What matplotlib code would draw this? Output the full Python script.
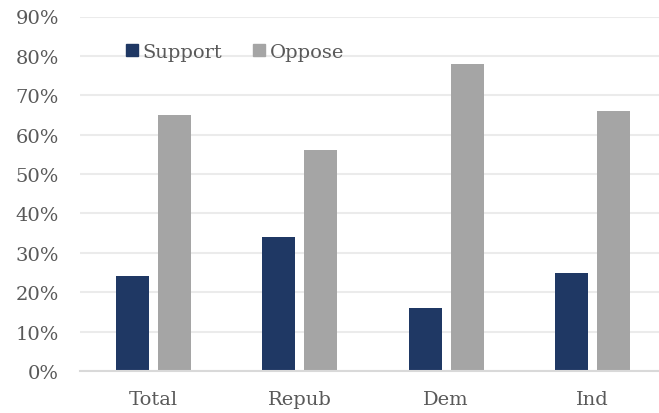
import matplotlib
matplotlib.use("Agg")
import matplotlib.pyplot as plt
from matplotlib.patches import Patch
import numpy as np

categories = ["Total", "Repub", "Dem", "Ind"]
support = [24, 34, 16, 25]
oppose = [65, 56, 78, 66]
yticks = [0, 10, 20, 30, 40, 50, 60, 70, 80, 90]
ytick_labels = ["0%", "10%", "20%", "30%", "40%", "50%", "60%", "70%", "80%", "90%"]

navy = "#1F3864"
grey = "#A5A5A5"
text_col = "#595959"

plt.rcParams["font.family"] = ["DejaVu Serif"]

fig = plt.figure(figsize=(6.59, 4.14), dpi=100)
W, H = 659, 414
left, right = 80, 666
bottom, top = 372, 17.5
ax = fig.add_axes([left / W, (H - bottom) / H, (right - left) / W, (bottom - top) / H])

x = np.arange(len(categories))
bw = 0.225
gap = 0.06
ax.bar(x - (bw + gap) / 2, support, bw, color=navy, zorder=3)
ax.bar(x + (bw + gap) / 2, oppose, bw, color=grey, zorder=3)

ax.set_xlim(-0.5, len(categories) - 0.5)
ax.set_ylim(0, 90)
ax.set_yticks(yticks)
ax.set_yticklabels(ytick_labels)
ax.set_xticks(x)
ax.set_xticklabels(categories)

ax.grid(axis="y", color="#EBEBEB", linewidth=1.5, zorder=0)
ax.set_axisbelow(True)
for s in ["top", "right", "left"]:
    ax.spines[s].set_visible(False)
ax.spines["bottom"].set_color("#D9D9D9")
ax.spines["bottom"].set_linewidth(1.5)
ax.spines["bottom"].set_zorder(4)

ax.tick_params(axis="both", length=0, labelsize=14, labelcolor=text_col)
ax.tick_params(axis="y", pad=15)
ax.tick_params(axis="x", pad=14)

handles = [Patch(color=navy, label="Support"), Patch(color=grey, label="Oppose")]
fig.legend(handles=handles, loc="center left", bbox_to_anchor=(126 / W, (H - 53) / H),
           ncol=2, frameon=False, fontsize=14, labelcolor=text_col,
           handlelength=0.6, handleheight=0.6, handletextpad=0.25,
           columnspacing=1.6, borderaxespad=0, borderpad=0)

fig.savefig("out.png", dpi=100)
